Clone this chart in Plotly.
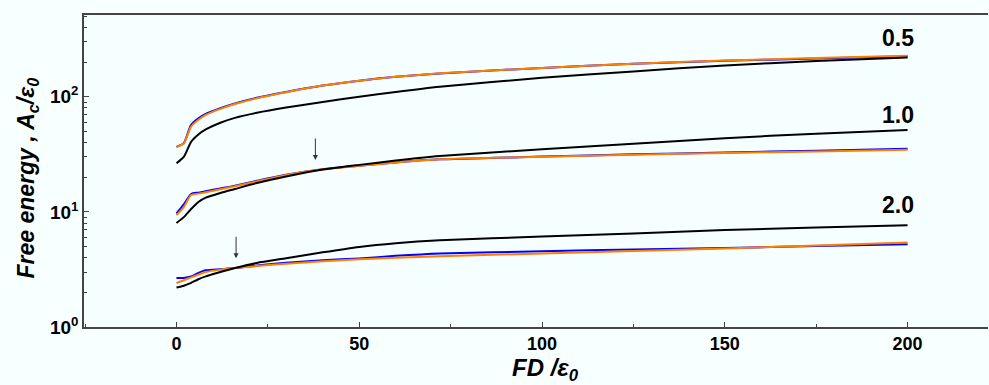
import math
import plotly.graph_objects as go

# ---- data ----
fd = [0, 2, 4, 6, 8, 12, 16, 22, 30, 40, 50, 60, 72, 100, 125, 150, 175, 200]

black_05 = [26.4, 30, 40.6, 47, 52, 59.5, 65.5, 72.5, 80.5, 90, 100, 110, 122, 146, 166, 187, 204, 219]
blue_05 = [36.7, 39.5, 57, 65, 71, 79.5, 87.5, 98, 110, 125, 138, 149, 159, 178, 193, 205, 215, 225]
orange_05 = [36.7, 39.3, 55, 63, 69.5, 78.5, 86.4, 97, 109.5, 125, 138, 149, 159.7, 178, 193, 206.5, 217, 227]

black_10 = [8.0, 9.0, 10.6, 12.2, 13.3, 14.6, 15.8, 17.8, 20.3, 23.3, 25.6, 27.9, 30.5, 35.0, 39.0, 43.6, 47.8, 51.3]
blue_10 = [9.68, 11.6, 14.3, 14.7, 15.1, 16.0, 16.9, 18.6, 21.0, 23.5, 25.2, 26.9, 28.6, 30.2, 31.6, 32.8, 34.0, 35.3]
orange_10 = [9.36, 11.0, 14.0, 14.4, 14.8, 15.7, 16.7, 18.4, 20.9, 23.4, 25.1, 26.8, 28.6, 30.1, 31.4, 32.5, 33.5, 34.6]

black_20 = [2.2, 2.28, 2.42, 2.6, 2.75, 3.0, 3.25, 3.6, 3.95, 4.45, 4.96, 5.35, 5.68, 6.1, 6.5, 6.95, 7.3, 7.66]
blue_20 = [2.67, 2.67, 2.75, 2.95, 3.11, 3.18, 3.25, 3.42, 3.62, 3.8, 3.94, 4.15, 4.35, 4.55, 4.72, 4.86, 5.05, 5.24]
orange_20 = [2.41, 2.55, 2.7, 2.85, 3.0, 3.15, 3.25, 3.38, 3.55, 3.72, 3.87, 4.0, 4.12, 4.35, 4.58, 4.80, 5.1, 5.42]

labels = ["0.5", "1.0", "2.0"]
label_y = [325, 69, 11.4]
arrow_x = [38, 16.3]
arrow_y = [28.2, 3.95]

x_title = "<b><i>FD /ε<sub>0</sub></i></b>"
y_title = "<b><i>Free energy , A<sub>c</sub>/ε<sub>0</sub></i></b>"

BLUE = "#0000FF"
ORANGE = "#FF7F00"
BLACK = "#000000"

fig = go.Figure()
groups = [(black_05, blue_05, orange_05), (black_10, blue_10, orange_10), (black_20, blue_20, orange_20)]
ln = dict(width=2, shape="spline", smoothing=0.6)
for blk, blu, ora in groups:
    fig.add_trace(go.Scatter(x=fd, y=blu, mode="lines", line=dict(color=BLUE, **ln), showlegend=False))
    fig.add_trace(go.Scatter(x=fd, y=ora, mode="lines", line=dict(color=ORANGE, **ln), showlegend=False))
for blk, blu, ora in groups:
    fig.add_trace(go.Scatter(x=fd, y=blk, mode="lines", line=dict(color=BLACK, **ln), showlegend=False))

for t, yv in zip(labels, label_y):
    fig.add_annotation(x=197.3, y=math.log10(yv), text=t, showarrow=False,
                       font=dict(family="Arial", size=23, color="black", weight="bold"))
for xa, ya in zip(arrow_x, arrow_y):
    fig.add_annotation(x=xa, y=math.log10(ya), text="", showarrow=True, arrowhead=2,
                       arrowsize=1, arrowwidth=1, arrowcolor="#333333", ax=0, ay=-23)

# axis titles as annotations (precise placement)
fig.add_annotation(xref="paper", yref="paper", x=0.51, y=-0.081, yanchor="top", text=x_title,
                   showarrow=False, font=dict(family="Arial", size=24, color="black"))
fig.add_annotation(xref="paper", yref="paper", x=-0.062, y=0.479, xanchor="center", yanchor="middle",
                   text=y_title, textangle=-90, showarrow=False,
                   font=dict(family="Arial", size=23, color="black"))

fig.update_layout(
    width=989, height=385,
    margin=dict(l=84, r=1, t=15, b=58, autoexpand=False),
    paper_bgcolor="#F8FFFF",
    plot_bgcolor="#F5FFFF",
    font=dict(family="Arial", color="black"),
)
fig.update_xaxes(
    range=[-25.3, 222], showgrid=False, zeroline=False, automargin=False,
    showline=True, linecolor="#444444", linewidth=1.5, mirror=True,
    ticks="inside", ticklen=5, tickcolor="#444444",
    tickvals=[0, 50, 100, 150, 200],
    tickfont=dict(family="Arial", size=18, weight="bold"),
    minor=dict(ticks="inside", ticklen=3, dtick=25, tickcolor="#444444"),
)
fig.update_yaxes(
    type="log", range=[0, 2.71], showgrid=False, zeroline=False, automargin=False,
    showline=True, linecolor="#444444", linewidth=1.5,
    ticks="inside", ticklen=5, tickcolor="#444444",
    tickvals=[1, 10, 100], ticktext=["10<sup>0</sup>", "10<sup>1</sup>", "10<sup>2</sup>"],
    tickfont=dict(family="Arial", size=19, weight="bold"),
    minor=dict(ticks="inside", ticklen=3, dtick="D1", tickcolor="#444444"),
)

fig.write_html("out.html", config={"displayModeBar": False},
               post_script="document.body.style.margin='0';document.body.style.background='#F8FFFF';")
